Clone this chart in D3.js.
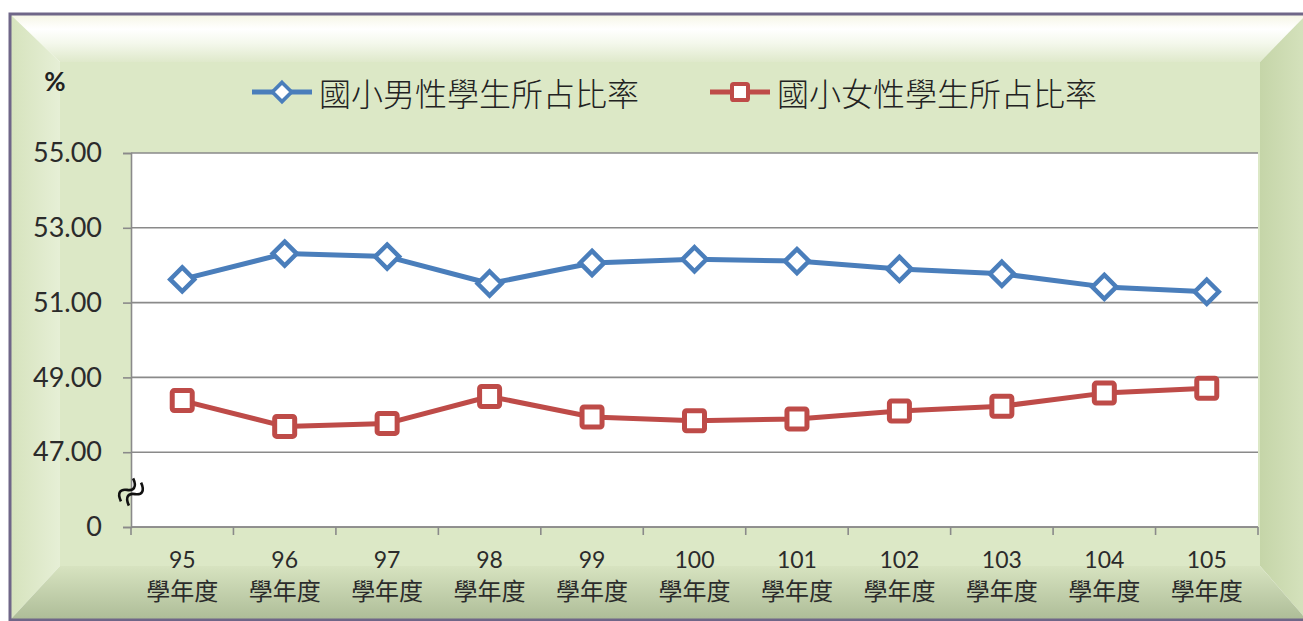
<html>
<head>
<meta charset="utf-8">
<script src="https://d3js.org/d3.v7.min.js"></script>
<style>
  body { margin: 0; background: #fff; }
  text { font-family: Lato, "Noto Sans", sans-serif; }
  .cjk { font-family: "Noto Sans CJK TC", "Noto Sans CJK SC", sans-serif; }
</style>
</head>
<body>
<svg width="1303" height="621"></svg>
<script>
// school years and series (percent)
var years = ["95", "96", "97", "98", "99", "100", "101", "102", "103", "104", "105"];
var yearSuffix = "學年度";
var boyShare  = [51.62, 52.31, 52.23, 51.51, 52.06, 52.16, 52.11, 51.90, 51.77, 51.42, 51.29];
var girlShare = [48.38, 47.69, 47.77, 48.49, 47.94, 47.84, 47.89, 48.10, 48.23, 48.58, 48.71];
var seriesNames = ["國小男性學生所占比率", "國小女性學生所占比率"];
// broken axis: the bottom tick stands for 0
var yTickValues = [45, 47, 49, 51, 53, 55];
var yTickLabels = ["0", "47.00", "49.00", "51.00", "53.00", "55.00"];

var svg = d3.select("svg");
var defs = svg.append("defs");

function grad(id, x1, y1, x2, y2, stops) {
  var g = defs.append("linearGradient").attr("id", id)
    .attr("x1", x1).attr("y1", y1).attr("x2", x2).attr("y2", y2);
  stops.forEach(function(s) {
    g.append("stop").attr("offset", s[0]).attr("stop-color", s[1]);
  });
}
grad("gTop", 0, 0, 0, 1, [[0, "#f6f6e6"], [0.3, "#ffffff"], [0.6, "#f4f8ec"], [1, "#dfe9cb"]]);
grad("gLeft", 0, 0, 1, 0, [[0, "#d6e3bd"], [1, "#e6efd6"]]);
grad("gRight", 0, 0, 1, 0, [[0, "#c5d5a8"], [1, "#d5e2bd"]]);
grad("gBottom", 0, 0, 0, 1, [[0, "#d7e3c0"], [1, "#aebd98"]]);

// bevelled frame
var L = 11, T = 15, R = 1306, B = 619;
var l = 60, t = 62, r = 1260, b = 566;
svg.append("rect").attr("x", l).attr("y", t).attr("width", r - l).attr("height", b - t).attr("fill", "#dce8c6");
var poly = d3.line();
svg.append("path").attr("d", poly([[L, T], [R, T], [r, t], [l, t]]) + "Z").attr("fill", "url(#gTop)");
svg.append("path").attr("d", poly([[L, T], [l, t], [l, b], [L, B]]) + "Z").attr("fill", "url(#gLeft)");
svg.append("path").attr("d", poly([[R, T], [R, B], [r, b], [r, t]]) + "Z").attr("fill", "url(#gRight)");
svg.append("path").attr("d", poly([[L, B], [l, b], [r, b], [R, B]]) + "Z").attr("fill", "url(#gBottom)");
svg.append("rect").attr("x", L - 1).attr("y", T - 1).attr("width", R - L + 2).attr("height", B - T + 2)
  .attr("fill", "none").attr("stroke", "#6f6688").attr("stroke-width", 3);

// plot area
var px0 = 131, px1 = 1258, py0 = 153, py1 = 527;
var x = d3.scaleBand().domain(years).range([px0, px1]);
var y = d3.scaleLinear().domain([45, 55]).range([py1, py0]);

svg.append("rect").attr("x", px0).attr("y", py0).attr("width", px1 - px0).attr("height", py1 - py0).attr("fill", "#ffffff");

// gridlines
svg.append("g").selectAll("line").data(yTickValues).enter().append("line")
  .attr("x1", px0).attr("x2", px1)
  .attr("y1", function(d) { return y(d); }).attr("y2", function(d) { return y(d); })
  .attr("stroke", "#8a8a8a").attr("stroke-width", 1.6);

// y axis
var yAxis = d3.axisLeft(y).tickValues(yTickValues).tickSize(8).tickPadding(21)
  .tickFormat(function(d, i) { return yTickLabels[i]; });
var ya = svg.append("g").attr("transform", "translate(" + px0 + ",0)").call(yAxis);
ya.select(".domain").attr("stroke", "#8a8a8a").attr("stroke-width", 1.6);
ya.selectAll(".tick line").attr("stroke", "#8a8a8a").attr("stroke-width", 1.6);
ya.selectAll(".tick text").attr("fill", "#2b2b2b").style("font-size", "27px")
  .style("font-family", "Lato, sans-serif");

// x axis: ticks at the band edges
var edges = years.map(function(d) { return x(d); }).concat([px1]);
svg.append("line").attr("x1", px0).attr("x2", px1).attr("y1", py1).attr("y2", py1)
  .attr("stroke", "#8a8a8a").attr("stroke-width", 1.6);
svg.append("g").selectAll("line").data(edges).enter().append("line")
  .attr("x1", function(d) { return d; }).attr("x2", function(d) { return d; })
  .attr("y1", py1).attr("y2", py1 + 8)
  .attr("stroke", "#8a8a8a").attr("stroke-width", 1.6);

var xl = svg.append("g").selectAll("text").data(years).enter().append("text")
  .attr("x", function(d) { return x(d) + x.bandwidth() / 2; })
  .attr("text-anchor", "middle").attr("fill", "#2b2b2b");
xl.append("tspan").attr("y", 568).style("font-size", "23px").text(function(d) { return d; });
xl.append("tspan").attr("class", "cjk").attr("y", 600)
  .attr("x", function(d) { return x(d) + x.bandwidth() / 2; })
  .style("font-size", "24px").text(yearSuffix);

// axis break mark: two tildes across the y axis
var brk = svg.append("g").attr("transform", "translate(131,492) rotate(-62)");
[-4.5, 4.5].forEach(function(off) {
  brk.append("path").attr("d", "M-13," + off + " C-7," + (off - 8) + " -2," + (off - 6) + " 0," + off +
      " S7," + (off + 8) + " 13," + off)
    .attr("fill", "none").attr("stroke", "#111").attr("stroke-width", 2.6);
});

// "%" unit
svg.append("text").attr("x", 55).attr("y", 91).attr("text-anchor", "middle")
  .attr("fill", "#222").style("font-size", "26px").style("font-weight", "bold").text("%");

// series
var cx = function(d, i) { return x(years[i]) + x.bandwidth() / 2; };
var series = [
  { name: seriesNames[0], values: boyShare, color: "#4a7ebb", marker: "diamond" },
  { name: seriesNames[1], values: girlShare, color: "#be4b48", marker: "square" }
];
var line = d3.line().x(cx).y(function(d) { return y(d); });

function marker(g, kind, color) {
  if (kind === "diamond") {
    g.append("path").attr("d", "M0,-12L12,0L0,12L-12,0Z")
      .attr("fill", "#fff").attr("stroke", color).attr("stroke-width", 4.5).attr("stroke-linejoin", "miter");
  } else {
    g.append("rect").attr("x", -10).attr("y", -10).attr("width", 20).attr("height", 20).attr("rx", 2)
      .attr("fill", "#fff").attr("stroke", color).attr("stroke-width", 5);
  }
}

series.forEach(function(s) {
  svg.append("path").attr("d", line(s.values)).attr("fill", "none")
    .attr("stroke", s.color).attr("stroke-width", 5).attr("stroke-linejoin", "round");
  s.values.forEach(function(v, i) {
    var g = svg.append("g").attr("transform", "translate(" + cx(v, i) + "," + y(v) + ")");
    marker(g, s.marker, s.color);
  });
});

// legend
var legendX = [252, 710];
series.forEach(function(s, i) {
  var g = svg.append("g").attr("transform", "translate(" + legendX[i] + ",92)");
  g.append("line").attr("x1", 0).attr("x2", 60).attr("y1", 0).attr("y2", 0)
    .attr("stroke", s.color).attr("stroke-width", 5);
  var m = g.append("g").attr("transform", "translate(30,0) scale(0.8)");
  marker(m, s.marker, s.color);
  g.append("text").attr("class", "cjk").attr("x", 67).attr("y", 0).attr("dominant-baseline", "central")
    .attr("fill", "#222").style("font-size", "32px").style("font-weight", "300").text(s.name);
});
</script>
</body>
</html>
